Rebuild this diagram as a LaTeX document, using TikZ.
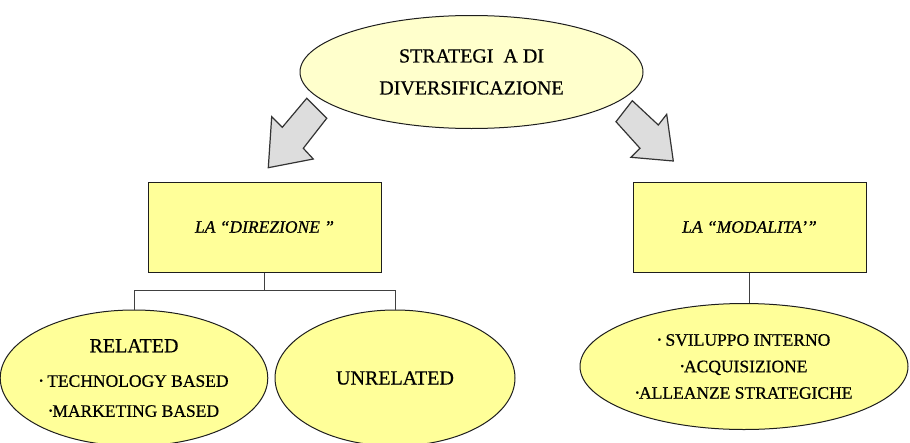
\documentclass[tikz,border=0pt]{standalone}
\usepackage{fontspec}
\setmainfont{Liberation Serif}[FakeBold=0.6]
\usetikzlibrary{shapes.geometric}
\definecolor{paleyel}{RGB}{255,255,204}
\definecolor{boxyel}{RGB}{255,255,153}
\definecolor{arrgray}{RGB}{221,221,221}
\definecolor{edge}{RGB}{30,30,30}
\newcommand{\bul}{\raisebox{2.8pt}{\fontsize{10}{10}\selectfont •}}
\tikzset{
  ell/.style={ellipse, draw=edge, line width=1pt, inner sep=0pt, align=center},
  yelbox/.style={rectangle, draw=edge, line width=1pt, fill=boxyel, inner sep=0pt,
    minimum width=233pt, minimum height=90pt, font=\fontsize{17.5}{21}\selectfont\itshape},
  conn/.style={draw=black!75, line width=0.9pt},
  bigarrow/.style={draw=black!80, line width=1.2pt, fill=arrgray, line join=miter}
}
\begin{document}
\begin{tikzpicture}[x=1pt,y=-1pt]
\useasboundingbox (0,0) rectangle (910,442);
% block arrows
\draw[bigarrow] (306.7,98.3) -- (326.7,118.3) -- (303.3,148.3) -- (313.3,159) -- (268.3,167.7) -- (271.7,116.7) -- (282.3,127.3) -- cycle;
\draw[bigarrow] (632.3,100.7) -- (658.3,125) -- (666.7,114.3) -- (673.3,161) -- (631,157.3) -- (640,148.3) -- (616,121.7) -- cycle;
% top ellipse
\node[ell, fill=paleyel, minimum width=343pt, minimum height=113pt,
  font=\fontsize{20}{32}\selectfont] (top) at (471.5,72) {STRATEGI \ A DI\\DIVERSIFICAZIONE};
% boxes
\node[yelbox] (lbox) at (264.5,227) {LA “DIREZIONE ”};
\node[yelbox] (rbox) at (749.5,227) {LA “MODALITA’”};
% bottom ellipses
\node[ell, fill=boxyel, minimum width=242pt, minimum height=136pt,
  font=\fontsize{17.5}{30}\selectfont] (rel) at (134,378)
  {{\fontsize{20}{24}\selectfont RELATED}\\[4.5pt]\bul\ TECHNOLOGY BASED\\\bul MARKETING BASED};
\node[ell, fill=boxyel, minimum width=240pt, minimum height=136pt,
  font=\fontsize{20}{24}\selectfont] (unrel) at (395,378) {UNRELATED};
\node[ell, fill=boxyel, minimum width=328pt, minimum height=126pt,
  font=\fontsize{17.5}{26.5}\selectfont] (rell) at (744,366.5)
  {\bul\ SVILUPPO INTERNO\\\bul ACQUISIZIONE\\\bul ALLEANZE STRATEGICHE};
% connectors
\coordinate (jn) at (264.5,290);
\draw[conn] (lbox.south) -- (jn) -| (rel.north);
\draw[conn] (jn) -| (unrel.north);
\draw[conn] (rbox.south) -- (rbox.south |- rell.north);
\end{tikzpicture}
\end{document}
